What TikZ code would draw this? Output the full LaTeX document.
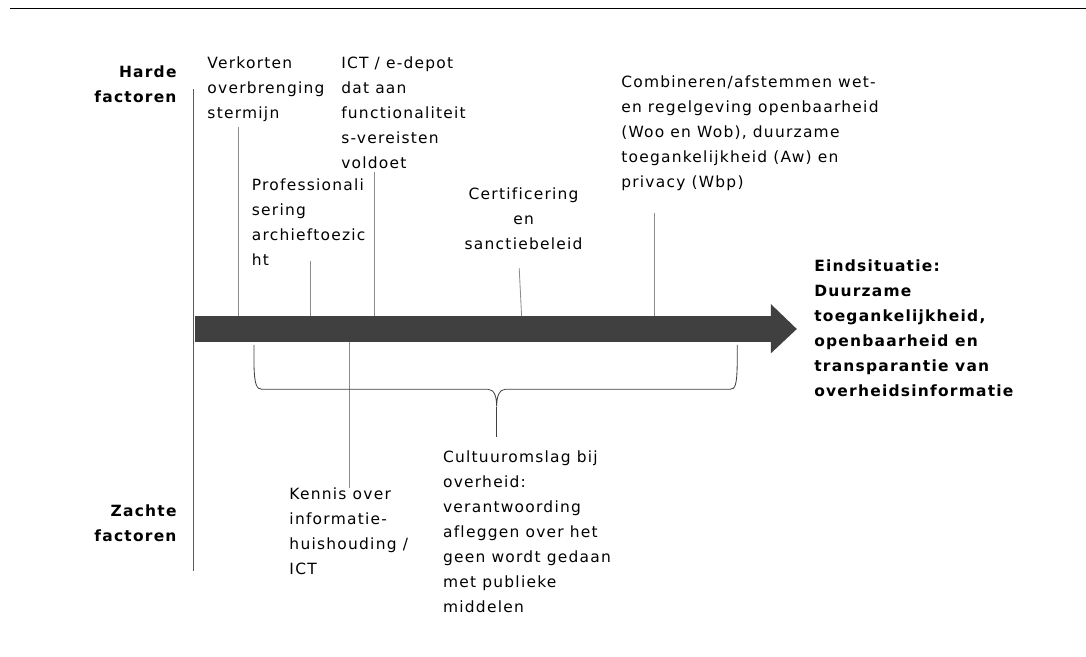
\documentclass[tikz,border=0pt]{standalone}
\usepackage{fontspec}
\setmainfont{DejaVu Sans}[LetterSpace=8, Ligatures=NoCommon]
\usepackage{tikz}
\usetikzlibrary{arrows}

\definecolor{shaftgray}{HTML}{404040}
\definecolor{tickgray}{HTML}{8C8C8C}
\definecolor{axisgray}{HTML}{5A5A5A}

\begin{document}
\begin{tikzpicture}[
        lbl/.style={inner sep=0pt, align=left, anchor=north west, font=\fontsize{11}{17.8}\selectfont},
        side/.style={lbl, align=right, anchor=north east, font=\fontsize{11}{17.8}\selectfont\bfseries},
        tick/.style={draw=tickgray, line width=0.6pt},
        brace/.style={draw=shaftgray, line width=0.6pt}
    ]
        \useasboundingbox (0,0) rectangle (27.15,16.425);
        \draw[line width=0.6pt] (0.25,16.225) -- (27.15,16.225);
        % vertical axis
        \coordinate (axtop) at (4.83,14.19);
        \coordinate (axbot) at (4.83,2.15);
        \draw[draw=axisgray, line width=0.6pt] (axtop) -- (axbot);
        \node[side] (harde) at (4.42,14.80) {Harde\\factoren};
        \node[side] (zachte) at (4.42,3.82) {Zachte\\factoren};
        % the big arrow
        \fill[shaftgray] (4.875,7.88) -- (19.27,7.88) -- (19.27,7.59) -- (19.92,8.2)
            -- (19.27,8.825) -- (19.27,8.52) -- (4.875,8.52) -- cycle;
        % labels above
        \node[lbl] (verk) at (5.18,15.02) {Verkorten\\overbrenging\\stermijn};
        \node[lbl] (ict) at (8.525,15.02) {ICT / e-depot\\dat aan\\functionaliteit\\s-vereisten\\voldoet};
        \node[lbl] (prof) at (6.29,11.97) {Professionali\\sering\\archieftoezic\\ht};
        \node[lbl, align=center, anchor=north] (cert) at (13.09,11.74) {Certificering\\en\\sanctiebeleid};
        \node[lbl] (comb) at (15.525,14.54) {Combineren/afstemmen wet-\\en regelgeving openbaarheid\\(Woo en Wob), duurzame\\toegankelijkheid (Aw) en\\privacy (Wbp)};
        \node[lbl, font=\fontsize{11}{17.8}\selectfont\bfseries] (eind) at (20.35,9.94) {Eindsituatie:\\Duurzame\\toegankelijkheid,\\openbaarheid en\\transparantie van\\overheidsinformatie};
        % labels below
        \node[lbl] (kennis) at (7.23,4.24) {Kennis over\\informatie-\\huishouding /\\ICT};
        \node[lbl] (cult) at (11.07,5.16) {Cultuuromslag bij\\overheid:\\verantwoording\\afleggen over het\\geen wordt gedaan\\met publieke\\middelen};
        % ticks
        \coordinate (verktop) at (5.9675,13.25);  \coordinate (verkfoot) at (5.9675,8.52);
        \coordinate (proftop) at (7.7675,9.91);   \coordinate (proffoot) at (7.7675,8.52);
        \coordinate (icttop) at (9.35,12.125);    \coordinate (ictfoot) at (9.35,8.52);
        \coordinate (certtop) at (12.98,9.72);    \coordinate (certfoot) at (13.04,8.52);
        \coordinate (combtop) at (16.35,11.11);   \coordinate (combfoot) at (16.35,8.52);
        \coordinate (kenfoot) at (8.73,7.88);     \coordinate (kenend) at (8.73,4.225);
        \draw[tick] (verktop) -- (verkfoot);
        \draw[tick] (proftop) -- (proffoot);
        \draw[tick] (icttop) -- (ictfoot);
        \draw[tick] (certtop) -- (certfoot);
        \draw[tick] (combtop) -- (combfoot);
        \draw[tick] (kenfoot) -- (kenend);
        % brace under the arrow
        \coordinate (brl) at (6.35,7.8);
        \coordinate (brr) at (18.43,7.8);
        \coordinate (brm) at (12.4175,6.26);
        \coordinate (brtip) at (12.4175,5.51);
        \draw[brace] (brl) -- (6.35,7.3) .. controls (6.36,6.8) and (6.42,6.6925) .. (6.55,6.6925)
            -- (12.2,6.6925) .. controls (12.36,6.6925) and (12.4175,6.5) .. (brm)
            .. controls (12.4175,6.5) and (12.47,6.6925) .. (12.63,6.6925)
            -- (18.25,6.6925) .. controls (18.38,6.6925) and (18.42,6.8) .. (18.43,7.3) -- (brr);
        \draw[brace] (brm) -- (brtip);
    \end{tikzpicture}
\end{document}
